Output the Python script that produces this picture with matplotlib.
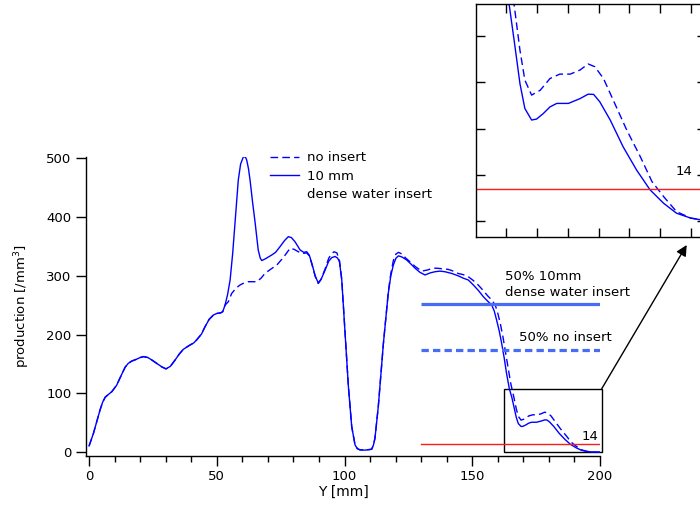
import matplotlib
matplotlib.use("Agg")
import matplotlib.pyplot as plt
from matplotlib.lines import Line2D
from matplotlib.patches import Rectangle

plt.rcParams['font.family'] = ['DejaVu Sans']
plt.rcParams['font.size'] = 9

# Production profile with the 10 mm dense water insert (solid)
y_insert = [0, 1.7, 3, 4.3, 5.3, 6.3, 7.5, 8.9, 10.8, 12.5, 14.1, 15.3, 16.7, 18.5, 20,
            21.3, 23, 24.5, 26.5, 28.5, 30.1, 31.8, 33.7, 35.3, 36.9, 39, 41, 42.1, 44,
            45.4, 47, 48.7, 50, 51.5, 52.3, 53.2, 54.2, 55.2, 56.2, 57.1, 58.4, 59.3, 60.4,
            61.2, 61.7, 62.4, 63, 64, 65, 66.2, 67, 67.6, 69, 71.5, 73, 74.8, 76.5, 78,
            79.2, 80.6, 82.6, 84, 85.2, 86.2, 87.2, 88.5, 89.7, 90.8, 92.4, 93.8, 95, 96.3,
            97.3, 98, 98.9, 100.2, 101.5, 102.8, 104.1, 105, 106, 108, 110.6, 111.3, 111.9,
            113.2, 115.2, 117.1, 118.1, 119.1, 120.1, 121.1, 122.5, 124.3, 126, 127.6, 129.5,
            131.5, 133.5, 135.4, 137.3, 139.3, 142, 144.5, 146.5, 148.4, 150.4, 152.4, 154.3,
            156, 157.6, 158.6, 159.5, 160.5, 161.5, 162.5, 163.4, 164.5, 165.5, 166.4, 167.2,
            168, 169.1, 169.9, 171, 172.1, 173.2, 175.1, 177, 178.3, 179.2, 180.2, 181.9, 184,
            186.2, 188.4, 190.6, 192.7, 195, 197, 200]
p_insert = [10.7, 32, 52, 72, 85, 93.5, 98, 103, 114, 130, 144.5, 151, 155, 158, 161,
            162.6, 161, 157, 151, 145, 141.7, 146, 157, 167, 175, 181, 186, 191, 201,
            213.6, 226, 233.5, 236, 237, 239, 250, 268, 293, 338, 389, 463, 490, 502.7,
            502, 497, 482, 463, 425, 390, 344, 330, 326, 329, 335.5, 340, 350, 360, 366.7,
            365, 358, 344, 340, 341, 335, 321, 300, 288, 294, 310, 325, 331, 333,
            330, 324, 293, 202, 111.6, 43.5, 12.4, 6, 4, 3.5, 5, 12, 23.8,
            77.6, 185, 270, 300, 318.5, 330, 334, 332, 327, 320, 313, 306,
            301.5, 305, 307, 308, 307, 304, 300, 296, 293, 284.5, 275, 264.6,
            257, 250.5, 240, 225, 207, 185, 160, 134, 108, 92.7, 75.4, 59.5,
            48.7, 43.7, 44.1, 46.5, 49.4, 50.9, 50.9, 53, 54.9, 54.8, 51.6, 43.7, 32.1,
            22, 13.4, 7.6, 3.3, 1.2, 0.3, 0]

# Production profile without insert (dashed)
y_none = [0, 1.7, 3, 4.3, 5.3, 6.3, 7.5, 8.9, 10.8, 12.5, 14.1, 15.3, 16.7, 18.5, 20,
          21.3, 23, 24.5, 26.5, 28.5, 30.1, 31.8, 33.7, 35.3, 36.9, 39, 41, 42.1, 44,
          45.4, 47, 48.7, 50, 51.5, 52.3, 53.2, 54.5, 55.8, 57.5, 59.1, 60.7, 62.3, 64,
          65.6, 67.3, 68.9, 71, 73.5, 76, 78.7, 80.3, 81.9, 83.5, 85.2, 86.2, 87.2, 88.5,
          89.7, 90.8, 92.4, 93.8, 95, 95.9, 97, 98, 98.9, 100.2, 101.5, 102.8, 104.1, 105,
          106, 108, 110.6, 111.3, 111.9, 113.2, 115.2, 117.1, 118.1, 119.1, 120.1, 121.1,
          122.5, 124, 125.6, 127.6, 130.2, 132.5, 134.5, 136.1, 138.5, 140.5, 142, 144.5,
          146.5, 148.4, 150.4, 152.4, 154.3, 156, 157.6, 159, 160, 161, 162, 163, 164, 165,
          166.3, 167.2, 168, 169.1, 170.5, 172.1, 173.7, 175.4, 177, 178.3, 179.4, 180.8,
          182.4, 184.6, 186.8, 188.7, 190.6, 192.7, 195, 197, 200]
p_none = [10.7, 32, 52, 72, 85, 93.5, 98, 103, 114, 130, 144.5, 151, 155, 158, 161,
          162.6, 161, 157, 151, 145, 141.7, 146, 157, 167, 175, 181, 186, 191, 201,
          213.6, 226, 233.5, 236, 237, 239, 250, 256, 270, 279, 284.5, 288, 290, 290,
          290, 296, 304.4, 311, 318.5, 331, 347, 345, 341, 338, 339, 334, 320, 299,
          287, 294, 312, 330, 338, 341, 339, 326, 294, 202, 111.6, 43.5, 12.4, 6,
          4, 3.5, 5, 12, 23.8, 77.6, 185, 272, 304, 326, 337, 340,
          337, 330, 324, 316, 308, 310, 313, 313, 312, 311, 309, 304,
          302, 298.6, 292, 284, 275, 266, 259, 250, 236, 218, 196, 170, 145, 118,
          92.7, 74, 61, 54.5, 56.6, 61.7, 63.6, 63.6, 65.4, 68, 66.8, 61.7,
          52.3, 39.3, 27.8, 17, 10.5, 4, 1.2, 0.3, 0]

# Reference levels: half of each profile's maximum, plus a threshold of 14
half_span = [130, 200]
half_insert = 0.5 * max(p_insert)
half_none = 0.5 * max(p_none)
threshold = 14

x_ticks = [0, 50, 100, 150, 200]
y_ticks = [0, 100, 200, 300, 400, 500]

blue = '#0000ff'
light_blue = '#476cf5'
red = '#ff1a1a'


def draw_content(ax):
    ax.plot(y_none, p_none, color=blue, lw=1.0, dashes=(5.5, 3))
    ax.plot(y_insert, p_insert, color=blue, lw=1.0)
    ax.plot(half_span, [half_insert, half_insert], color=light_blue, lw=2.3,
            solid_capstyle='butt')
    ax.plot(half_span, [half_none, half_none], color=light_blue, lw=2.3,
            dashes=(2.3, 1.3))
    ax.plot(half_span, [threshold, threshold], color=red, lw=1.0)
    ax.text(192.6, 20, f'{threshold}', fontsize=9.5, va='baseline', ha='left')


fig = plt.figure(figsize=(7.0, 5.09), dpi=100)

# Main axes
ax = fig.add_axes([0.1229, 0.1047, 0.7343, 0.5878])
draw_content(ax)
ax.set_xlim(-1.2, 200)
ax.set_ylim(-6, 503)
for s in ('top', 'right'):
    ax.spines[s].set_visible(False)
for s in ('left', 'bottom'):
    ax.spines[s].set_linewidth(1.0)
ax.set_xticks(x_ticks)
ax.set_xticks(range(0, 201, 10), minor=True)
ax.set_yticks(y_ticks)
ax.tick_params(axis='both', which='major', direction='out', length=7.5, width=1.0,
               labelsize=9.5, pad=3)
ax.tick_params(axis='x', which='minor', direction='out', length=4.5, width=1.0)
ax.set_xlabel('Y [mm]', fontsize=10, labelpad=1)
ax.set_ylabel('production [/mm$^3$]', fontsize=9.5, labelpad=10)

ax.text(162.8, 285, '50% 10mm\ndense water insert', fontsize=9.5, va='center',
        ha='left', linespacing=1.35)
ax.text(168.3, 195, '50% no insert', fontsize=9.5, va='center', ha='left')

# Zoom box around the tail
ax.add_patch(Rectangle((162.5, 0), 38.1, 107.5, fill=False, edgecolor='black',
                       lw=1.0, clip_on=False))

# Legend
handles = [Line2D([], [], color=blue, lw=1.0, dashes=(5.5, 3)),
           Line2D([], [], color=blue, lw=1.0),
           Line2D([], [], color='none', lw=0)]
ax.legend(handles, ['no insert', '10 mm', 'dense water insert'],
          loc='upper left', bbox_to_anchor=(0.345, 1.04), frameon=False,
          fontsize=9.5, handlelength=2.2, handletextpad=0.6, labelspacing=0.42,
          borderpad=0)

# Inset: magnified tail
axin = fig.add_axes([0.6796, 0.5344, 0.329, 0.4578])
draw_content(axin)
axin.set_xlim(160, 197.5)
axin.set_ylim(-7, 94)
axin.set_xticks(range(165, 200, 5))
axin.set_yticks(range(0, 100, 20))
axin.tick_params(axis='both', which='both', direction='in', length=6.5, width=1.0,
                 top=True, right=True, labelbottom=False, labelleft=False)
for s in axin.spines.values():
    s.set_linewidth(1.0)

# Arrow from zoom box to inset
ax.annotate('', xy=(0.981, 0.5187), xycoords='figure fraction',
            xytext=(200.6, 107.5), textcoords='data',
            arrowprops=dict(arrowstyle='-|>', color='black', lw=1.0,
                            shrinkA=0, shrinkB=0, mutation_scale=16))

fig.savefig('out.png', dpi=100)
